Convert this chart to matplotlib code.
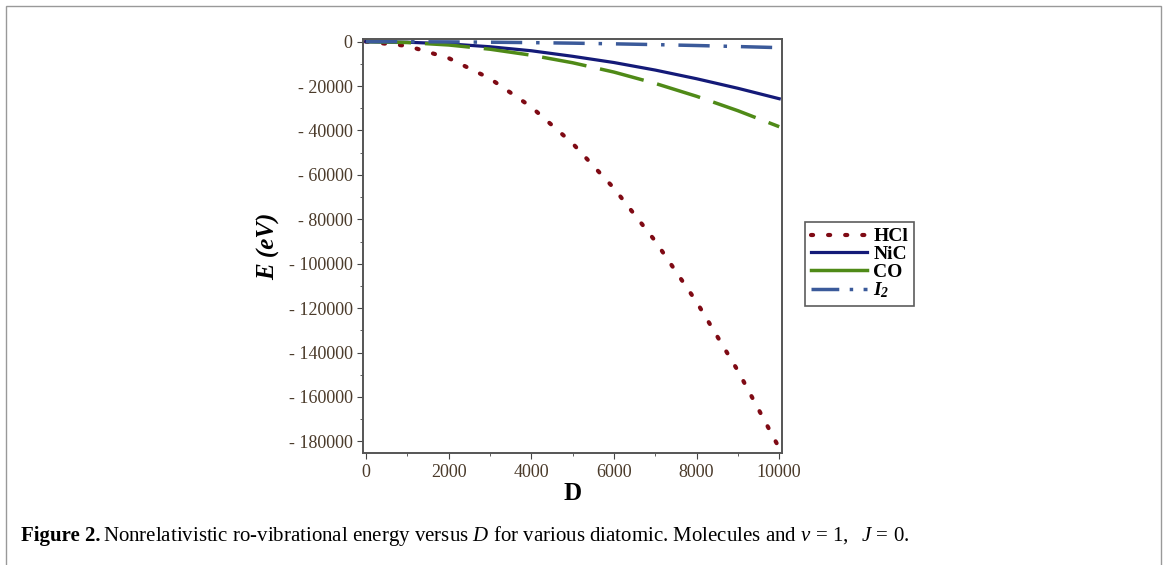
import matplotlib.pyplot as plt
from matplotlib.lines import Line2D
from matplotlib.patches import Rectangle
from matplotlib.ticker import MultipleLocator, FuncFormatter

# values
D = [0, 1000, 2000, 3000, 4000, 5000, 6000, 7000, 8000, 9000, 10000]
E_HCl = [0, -1900, -7400, -16600, -29400, -45800, -66000, -89800, -117200, -148200, -183000]
E_NiC = [0, -250, -1000, -2300, -4100, -6600, -9400, -12800, -16700, -21000, -25700]
E_CO = [0, -400, -1500, -3400, -6100, -9500, -13700, -18800, -24600, -31100, -38300]
E_I2 = [0, -30, -110, -250, -440, -680, -980, -1330, -1740, -2200, -2700]

names = ['HCl', 'NiC', 'CO', r'$\mathbf{I}_{\mathbf{2}}$']
colors = ['#7f0a14', '#141a78', '#4f8a17', '#3b5a9a']

plt.rcParams['font.family'] = ['Liberation Serif', 'DejaVu Serif']
plt.rcParams['mathtext.fontset'] = 'custom'
plt.rcParams['mathtext.rm'] = 'Liberation Serif'
plt.rcParams['mathtext.it'] = 'Liberation Serif:italic'
plt.rcParams['mathtext.bf'] = 'Liberation Serif:italic:bold'

fig = plt.figure(figsize=(11.67, 5.65), dpi=100)
ax = fig.add_axes([0.311, 0.198, 0.359, 0.733])

hcl_style = (0, (0.5, 3.6))
ax.plot(D, E_HCl, color=colors[0], lw=3, linestyle=hcl_style, dash_capstyle='round')
ax.plot(D, E_NiC, color=colors[1], lw=2.3)
ax.plot(D, E_CO, color=colors[2], lw=2.5, linestyle=(0, (13, 4)))
ax.plot(D, E_I2, color=colors[3], lw=2.5, linestyle=(0, (9, 4, 1, 4)))

ax.set_xlim(-73, 10065)
ax.set_ylim(-185300, 1200)
ax.xaxis.set_major_locator(MultipleLocator(2000))
ax.xaxis.set_minor_locator(MultipleLocator(1000))
ax.yaxis.set_major_locator(MultipleLocator(20000))
ax.yaxis.set_minor_locator(MultipleLocator(10000))
ax.yaxis.set_major_formatter(FuncFormatter(lambda v, p: '0' if v == 0 else '- %d' % abs(v)))
ax.tick_params(which='both', direction='out', color='#444444', labelsize=13, labelcolor='#4a3a2a')
ax.tick_params(which='major', length=4)
ax.tick_params(which='minor', length=2.5)
for s in ax.spines.values():
    s.set_color('#555555')
    s.set_linewidth(1.4)

ax.set_xlabel('D', fontsize=18, fontweight='bold', labelpad=1)
ax.set_ylabel('E (eV)', fontsize=18, fontweight='bold', fontstyle='italic', labelpad=6)

handles = [
    Line2D([], [], color=colors[0], lw=3, linestyle=hcl_style, dash_capstyle='round'),
    Line2D([], [], color=colors[1], lw=2.3),
    Line2D([], [], color=colors[2], lw=2.5),
    Line2D([], [], color=colors[3], lw=2.5, linestyle=(0, (8, 3, 1, 3))),
]
leg = fig.legend(handles, names, loc='upper left', bbox_to_anchor=(0.690, 0.607),
                 borderaxespad=0, frameon=True, fancybox=False, edgecolor='#333333',
                 prop={'weight': 'bold', 'size': 14}, handlelength=2.9,
                 handletextpad=0.3, labelspacing=0.0, borderpad=0.3)
leg.get_frame().set_linewidth(1.2)

fig.patches.append(Rectangle((0.005, -0.01), 0.99, 1.0, transform=fig.transFigure,
                             fill=False, edgecolor='#999999', lw=1))

cap_y = 0.043
t1 = fig.text(0.018, cap_y, 'Figure 2.', fontsize=15, fontweight='bold', va='baseline')
fig.canvas.draw()
bb = t1.get_window_extent()
fig.text(bb.x1 / fig.bbox.width + 0.002, cap_y,
         r'Nonrelativistic ro-vibrational energy versus $D$ for various diatomic. '
         r'Molecules and $\nu\,=\,1,\ \ J\,=\,0$.', fontsize=15, va='baseline')

fig.savefig('out.png', dpi=100)
